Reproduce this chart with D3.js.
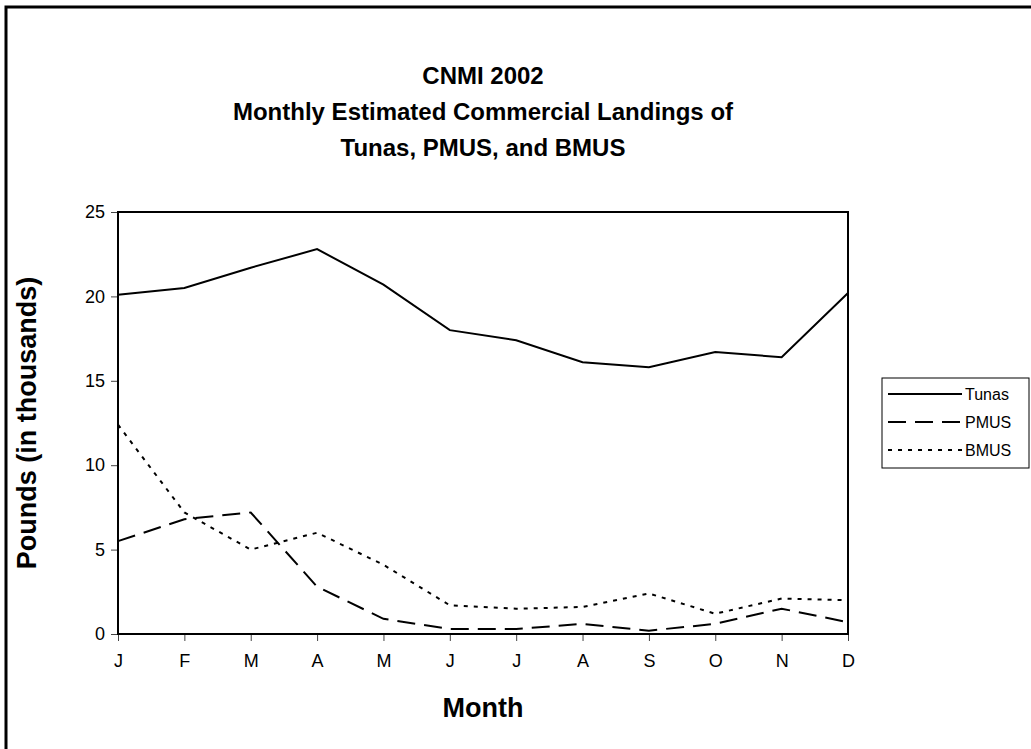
<!DOCTYPE html>
<html>
<head>
  <title>CNMI 2002 Monthly Estimated Commercial Landings</title>
  <script src="https://d3js.org/d3.v7.min.js"></script>
  <style>
    body { margin: 0; background: white; }
    svg { display: block; font-family: "Liberation Sans", Arial, sans-serif; }
    .chart-title { font-size: 24px; font-weight: bold; text-anchor: middle; }
    .axis-label { font-size: 27px; font-weight: bold; text-anchor: middle; }
    .axis text { font-size: 18px; font-family: "Liberation Sans", Arial, sans-serif; fill: black; }
    .axis .tick line { stroke: #444; stroke-width: 1; }
    .axis path { display: none; }
    .legend text { font-size: 16px; }
  </style>
</head>
<body>
<div id="chart"></div>
<script>
  // Data (thousands of pounds)
  const months = ["J", "F", "M", "A", "M", "J", "J", "A", "S", "O", "N", "D"];
  const tunas = [20.1, 20.5, 21.7, 22.8, 20.7, 18.0, 17.4, 16.1, 15.8, 16.7, 16.4, 20.2];
  const pmus = [5.5, 6.8, 7.2, 2.8, 0.9, 0.3, 0.3, 0.6, 0.2, 0.6, 1.5, 0.7];
  const bmus = [12.4, 7.2, 5.0, 6.0, 4.1, 1.7, 1.5, 1.6, 2.4, 1.2, 2.1, 2.0];
  const yTicks = [0, 5, 10, 15, 20, 25];

  const series = [
    { name: "Tunas", values: tunas, dash: null },
    { name: "PMUS", values: pmus, dash: "18,9" },
    { name: "BMUS", values: bmus, dash: "4,6" }
  ];

  const W = 1031, H = 749;
  const margin = { top: 212, left: 118, right: 183, bottom: 115 };
  const width = W - margin.left - margin.right,
        height = H - margin.top - margin.bottom;

  const svg = d3.select("#chart").append("svg")
    .attr("width", W)
    .attr("height", H);

  // outer frame (runs off the right and bottom edges)
  svg.append("rect")
    .attr("x", 6).attr("y", 7)
    .attr("width", W + 20).attr("height", H + 20)
    .attr("fill", "white")
    .attr("stroke", "black")
    .attr("stroke-width", 3);

  // title
  const titleLines = ["CNMI 2002", "Monthly Estimated Commercial Landings of", "Tunas, PMUS, and BMUS"];
  svg.selectAll(".chart-title")
    .data(titleLines)
    .enter().append("text")
    .attr("class", "chart-title")
    .attr("x", margin.left + width / 2)
    .attr("y", (d, i) => 84 + i * 36)
    .text(d => d);

  const g = svg.append("g")
    .attr("transform", `translate(${margin.left},${margin.top})`);

  const x = d3.scalePoint()
    .domain(d3.range(months.length))
    .range([0, width]);
  const y = d3.scaleLinear()
    .domain([0, 25])
    .range([height, 0]);

  // axes
  g.append("g")
    .attr("class", "axis")
    .attr("transform", `translate(0,${height})`)
    .call(d3.axisBottom(x).tickSize(7).tickPadding(13).tickFormat(i => months[i]));
  g.append("g")
    .attr("class", "axis")
    .call(d3.axisLeft(y).tickValues(yTicks).tickSize(7).tickPadding(6));

  // plot frame
  g.append("rect")
    .attr("width", width)
    .attr("height", height)
    .attr("fill", "none")
    .attr("stroke", "black")
    .attr("stroke-width", 2);

  const line = d3.line()
    .x((d, i) => x(i))
    .y(d => y(d));

  g.selectAll(".series")
    .data(series)
    .enter().append("path")
    .attr("class", "series")
    .attr("d", d => line(d.values))
    .attr("fill", "none")
    .attr("stroke", "black")
    .attr("stroke-width", 2)
    .attr("stroke-dasharray", d => d.dash);

  // axis labels
  svg.append("text")
    .attr("class", "axis-label")
    .attr("x", margin.left + width / 2)
    .attr("y", 717)
    .text("Month");
  svg.append("text")
    .attr("class", "axis-label")
    .attr("transform", `translate(36,${margin.top + height / 2}) rotate(-90)`)
    .text("Pounds (in thousands)");

  // legend
  const legend = svg.append("g")
    .attr("class", "legend")
    .attr("transform", "translate(882,378)");
  legend.append("rect")
    .attr("width", 147).attr("height", 90)
    .attr("fill", "white")
    .attr("stroke", "black")
    .attr("stroke-width", 1);
  const item = legend.selectAll(".item")
    .data(series)
    .enter().append("g")
    .attr("class", "item")
    .attr("transform", (d, i) => `translate(0,${16 + i * 28})`);
  item.append("line")
    .attr("x1", 6).attr("x2", 80)
    .attr("stroke", "black")
    .attr("stroke-width", 2)
    .attr("stroke-dasharray", d => d.dash);
  item.append("text")
    .attr("x", 83)
    .attr("dy", "0.35em")
    .text(d => d.name);
</script>
</body>
</html>
